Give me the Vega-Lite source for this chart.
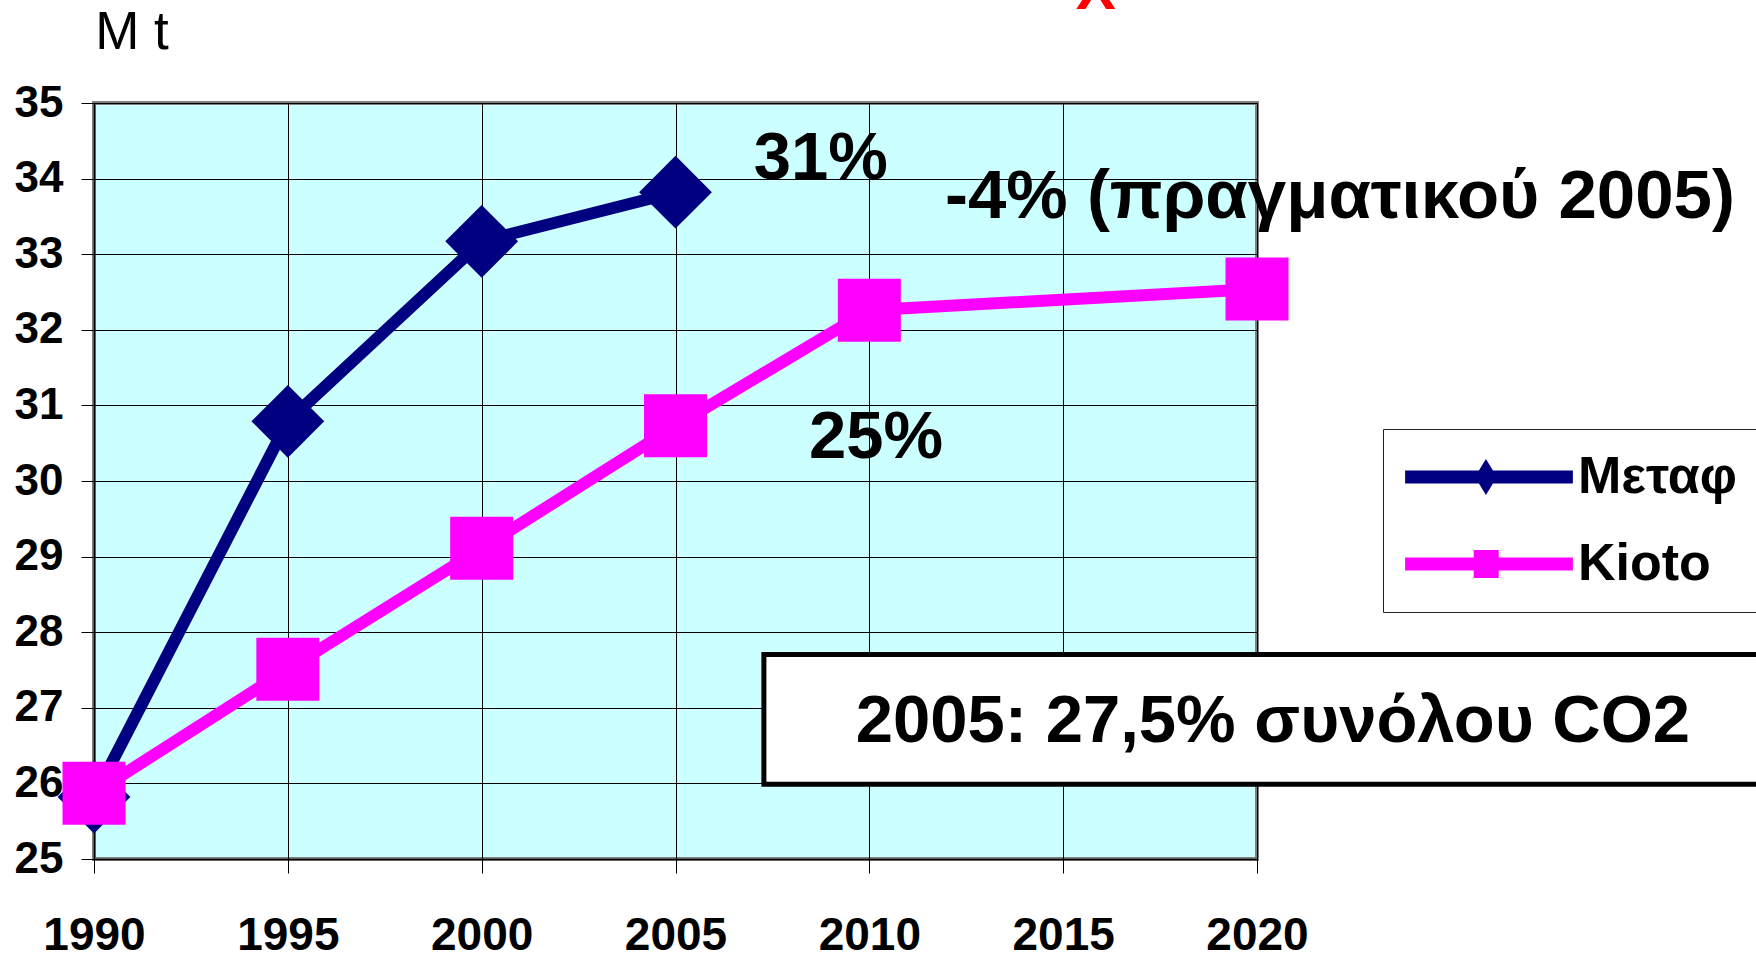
{
  "$schema": "https://vega.github.io/schema/vega-lite/v6.json",
  "width": 1163,
  "height": 756,
  "autosize": {"type": "none"},
  "padding": {"left": 94, "top": 103, "right": 499, "bottom": 100},
  "background": "white",
  "config": {
    "view": {"fill": "#CCFFFF", "stroke": "#808080", "strokeWidth": 4},
    "axis": {"gridColor": "black", "gridOpacity": 1, "gridWidth": 1, "domainColor": "black", "domainWidth": 1.5, "tickColor": "black", "tickWidth": 1, "labelColor": "black"}
  },
  "datasets": {
    "series": [
      {"series": "Μεταφ", "year": 1990, "value": 25.82},
      {"series": "Μεταφ", "year": 1995, "value": 30.79},
      {"series": "Μεταφ", "year": 2000, "value": 33.17},
      {"series": "Μεταφ", "year": 2005, "value": 33.82},
      {"series": "Kioto", "year": 1990, "value": 25.87},
      {"series": "Kioto", "year": 1995, "value": 27.51},
      {"series": "Kioto", "year": 2000, "value": 29.11},
      {"series": "Kioto", "year": 2005, "value": 30.73},
      {"series": "Kioto", "year": 2010, "value": 32.26},
      {"series": "Kioto", "year": 2020, "value": 32.54}
    ]
  },
  "layer": [
    {
      "data": {"name": "series"},
      "mark": {"type": "line", "strokeWidth": 12},
      "encoding": {
        "x": {"field": "year", "type": "quantitative", "title": null,
          "scale": {"domain": [1990, 2020], "nice": false, "zero": false},
          "axis": {"values": [1990, 1995, 2000, 2005, 2010, 2015, 2020], "format": "d", "labelFont": "Liberation Sans", "labelFontSize": 46, "labelFontWeight": "bold", "tickSize": 14, "labelPadding": 40, "labelFlush": false, "labelOverlap": false, "grid": true}},
        "y": {"field": "value", "type": "quantitative", "title": null,
          "scale": {"domain": [25, 35], "nice": false, "zero": false},
          "axis": {"values": [25, 26, 27, 28, 29, 30, 31, 32, 33, 34, 35], "format": "d", "labelFont": "Liberation Sans", "labelFontSize": 44, "labelFontWeight": "bold", "tickSize": 13, "labelPadding": 18, "labelFlush": false, "labelOverlap": false, "grid": true}},
        "color": {"field": "series", "type": "nominal",
          "scale": {"domain": ["Μεταφ", "Kioto"], "range": ["#000080", "#FF00FF"]},
          "legend": {
            "title": null, "orient": "none", "legendX": 1289, "legendY": 326,
            "padding": 22, "fillColor": "white", "strokeColor": "#222222",
            "labelFont": "Liberation Sans", "labelFontSize": 52, "labelFontWeight": "bold", "labelColor": "black", "labelLimit": 400,
            "symbolSize": 1296, "symbolOffset": 58, "labelOffset": 63, "rowPadding": 35, "symbolStrokeWidth": 0,
            "encode": {
              "symbols": {"update": {
                "shape": {"signal": "datum.value === 'Μεταφ' ? 'M-4.66,-0.36L4.66,-0.36L4.66,0.36L-4.66,0.36ZM-0.17,-1L0.44,0L-0.17,1L-0.78,0Z' : 'M-4.66,-0.36L4.66,-0.36L4.66,0.36L-4.66,0.36ZM-0.85,-0.78L0.54,-0.78L0.54,0.78L-0.85,0.78Z'"},
                "fill": {"scale": "color", "field": "value"},
                "stroke": {"value": "transparent"},
                "strokeWidth": {"value": 0},
                "opacity": {"value": 1}
              }}
            }
          }}
      }
    },
    {
      "data": {"name": "series"},
      "transform": [{"filter": "datum.series === 'Μεταφ'"}],
      "mark": {"type": "point", "shape": "diamond", "filled": true, "size": 5300, "color": "#000080", "opacity": 1, "strokeWidth": 0},
      "encoding": {
        "x": {"field": "year", "type": "quantitative", "scale": {"domain": [1990, 2020], "nice": false, "zero": false}},
        "y": {"field": "value", "type": "quantitative", "scale": {"domain": [25, 35], "nice": false, "zero": false}}
      }
    },
    {
      "data": {"name": "series"},
      "transform": [{"filter": "datum.series === 'Kioto'"}],
      "mark": {"type": "point", "shape": "square", "filled": true, "size": 3969, "color": "#FF00FF", "opacity": 1, "strokeWidth": 0},
      "encoding": {
        "x": {"field": "year", "type": "quantitative", "scale": {"domain": [1990, 2020], "nice": false, "zero": false}},
        "y": {"field": "value", "type": "quantitative", "scale": {"domain": [25, 35], "nice": false, "zero": false}}
      }
    },
    {
      "data": {"values": [{"x1": 2007.28, "x2": 2060, "y1": 25.99, "y2": 27.705}]},
      "mark": {"type": "rect", "fill": "white", "stroke": "black", "strokeWidth": 5},
      "encoding": {
        "x": {"field": "x1", "type": "quantitative", "scale": {"domain": [1990, 2020], "nice": false, "zero": false}},
        "x2": {"field": "x2"},
        "y": {"field": "y1", "type": "quantitative", "scale": {"domain": [25, 35], "nice": false, "zero": false}},
        "y2": {"field": "y2"}
      }
    },
    {
      "data": {"values": [
        {"x": 2008.75, "y": 34.0, "t": "31%"},
        {"x": 2020.41, "y": 26.55, "t": "2005: 27,5% συνόλου CO2"},
        {"x": 2010.17, "y": 30.3, "t": "25%"}
      ]},
      "mark": {"type": "text", "font": "Liberation Sans", "fontSize": 67, "fontWeight": "bold", "align": "center", "baseline": "alphabetic", "color": "black"},
      "encoding": {
        "x": {"field": "x", "type": "quantitative", "scale": {"domain": [1990, 2020], "nice": false, "zero": false}},
        "y": {"field": "y", "type": "quantitative", "scale": {"domain": [25, 35], "nice": false, "zero": false}},
        "text": {"field": "t"}
      }
    },
    {
      "data": {"values": [
        {"x": 2022.14, "y": 33.48, "t": "-4% (πραγματικού 2005)"}
      ]},
      "mark": {"type": "text", "font": "Liberation Sans", "fontSize": 69, "fontWeight": "bold", "align": "center", "baseline": "alphabetic", "color": "black"},
      "encoding": {
        "x": {"field": "x", "type": "quantitative", "scale": {"domain": [1990, 2020], "nice": false, "zero": false}},
        "y": {"field": "y", "type": "quantitative", "scale": {"domain": [25, 35], "nice": false, "zero": false}},
        "text": {"field": "t"}
      }
    },
    {
      "data": {"values": [{"x": 1990.03, "y": 35.71, "t": "M t"}]},
      "mark": {"type": "text", "font": "Liberation Sans", "fontSize": 53, "fontWeight": "normal", "align": "left", "baseline": "alphabetic", "color": "black"},
      "encoding": {
        "x": {"field": "x", "type": "quantitative", "scale": {"domain": [1990, 2020], "nice": false, "zero": false}},
        "y": {"field": "y", "type": "quantitative", "scale": {"domain": [25, 35], "nice": false, "zero": false}},
        "text": {"field": "t"}
      }
    },
    {
      "data": {"values": [{"x": 2015.84, "y": 36.25, "t": "X"}]},
      "mark": {"type": "text", "font": "Liberation Sans", "fontSize": 60, "fontWeight": "bold", "align": "center", "baseline": "alphabetic", "color": "#FF0000"},
      "encoding": {
        "x": {"field": "x", "type": "quantitative", "scale": {"domain": [1990, 2020], "nice": false, "zero": false}},
        "y": {"field": "y", "type": "quantitative", "scale": {"domain": [25, 35], "nice": false, "zero": false}},
        "text": {"field": "t"}
      }
    }
  ]
}
